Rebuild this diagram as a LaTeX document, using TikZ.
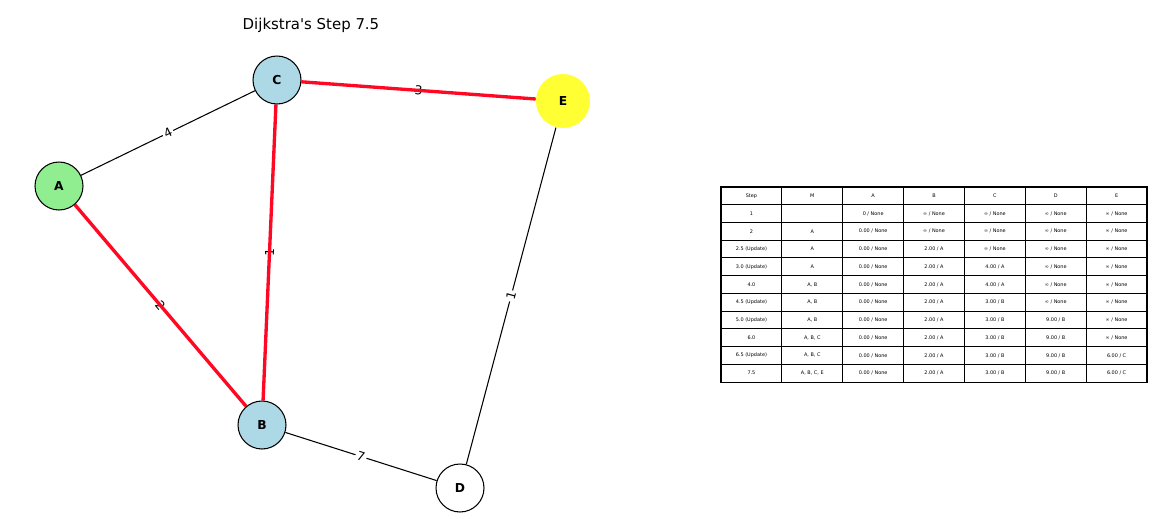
\documentclass[tikz,border=0pt]{standalone}
\usepackage{fontspec}
\setmainfont{DejaVu Sans}
\usetikzlibrary{positioning}
\definecolor{visitgreen}{RGB}{144,238,144}
\definecolor{doneblue}{RGB}{173,216,230}
\definecolor{curyellow}{RGB}{255,255,51}
\definecolor{pathred}{RGB}{255,8,36}

\begin{document}
\begin{tikzpicture}[x=0.02cm, y=-0.02cm,
  vtx/.style={circle, draw=black, line width=0.6pt, minimum size=0.96cm, inner sep=0pt,
              font=\fontsize{7}{8}\selectfont\bfseries},
  wlab/.style={sloped, fill=white, inner sep=1pt, font=\fontsize{7}{8}\selectfont},
  redpath/.style={draw=pathred, line width=1.9pt},
  cell/.style={rectangle, draw=black, line width=0.6pt, minimum width=1.217cm,
               minimum height=0.3546cm, inner sep=0pt, font=\fontsize{2.8}{3}\selectfont}
]
  \useasboundingbox (0,0) rectangle (1153,518);
  \node[font=\fontsize{8.5}{10}\selectfont] (title) at (311,25) {Dijkstra\textquotesingle s Step 7.5};

  % graph
  \node[vtx, fill=visitgreen] (A) at (59,186) {A};
  \node[vtx, fill=doneblue] (C) at (277,80) {C};
  \node[vtx, fill=doneblue] (B) at (262,425) {B};
  \node[vtx, fill=white] (D) at (460,488) {D};
  \node[vtx, draw=none, fill=curyellow, minimum size=1.08cm] (E) at (563,101) {E};

  \draw[line width=0.6pt] (A) -- node[wlab]{4} (C);
  \draw[line width=0.6pt] (A) -- node[wlab]{2} (B);
  \draw[line width=0.6pt] (C) -- node[wlab]{3} (E);
  \draw[line width=0.6pt] (C) -- node[wlab]{1} (B);
  \draw[line width=0.6pt] (B) -- node[wlab]{7} (D);
  \draw[line width=0.6pt] (E) -- node[wlab]{1} (D);

  % shortest path tree so far
  \draw[redpath] (A) -- (B);
  \draw[redpath] (B) -- (C);
  \draw[redpath] (C) -- (E);

  % table
  \foreach \row [count=\i] in {
      {Step,M,A,B,C,D,E},
      {1,{},0 / None,∞ / None,∞ / None,∞ / None,∞ / None},
      {2,A,0.00 / None,∞ / None,∞ / None,∞ / None,∞ / None},
      {2.5 (Update),A,0.00 / None,2.00 / A,∞ / None,∞ / None,∞ / None},
      {3.0 (Update),A,0.00 / None,2.00 / A,4.00 / A,∞ / None,∞ / None},
      {4.0,{A, B},0.00 / None,2.00 / A,4.00 / A,∞ / None,∞ / None},
      {4.5 (Update),{A, B},0.00 / None,2.00 / A,3.00 / B,∞ / None,∞ / None},
      {5.0 (Update),{A, B},0.00 / None,2.00 / A,3.00 / B,9.00 / B,∞ / None},
      {6.0,{A, B, C},0.00 / None,2.00 / A,3.00 / B,9.00 / B,∞ / None},
      {6.5 (Update),{A, B, C},0.00 / None,2.00 / A,3.00 / B,9.00 / B,6.00 / C},
      {7.5,{A, B, C, E},0.00 / None,2.00 / A,3.00 / B,9.00 / B,6.00 / C}} {
    \foreach \entry [count=\j] in \row {
      \node[cell] (t\i-\j) at ({721+60.86*(\j-0.5)},{187+17.73*(\i-0.5)}) {\entry};
    }
  }
\end{tikzpicture}
\end{document}
